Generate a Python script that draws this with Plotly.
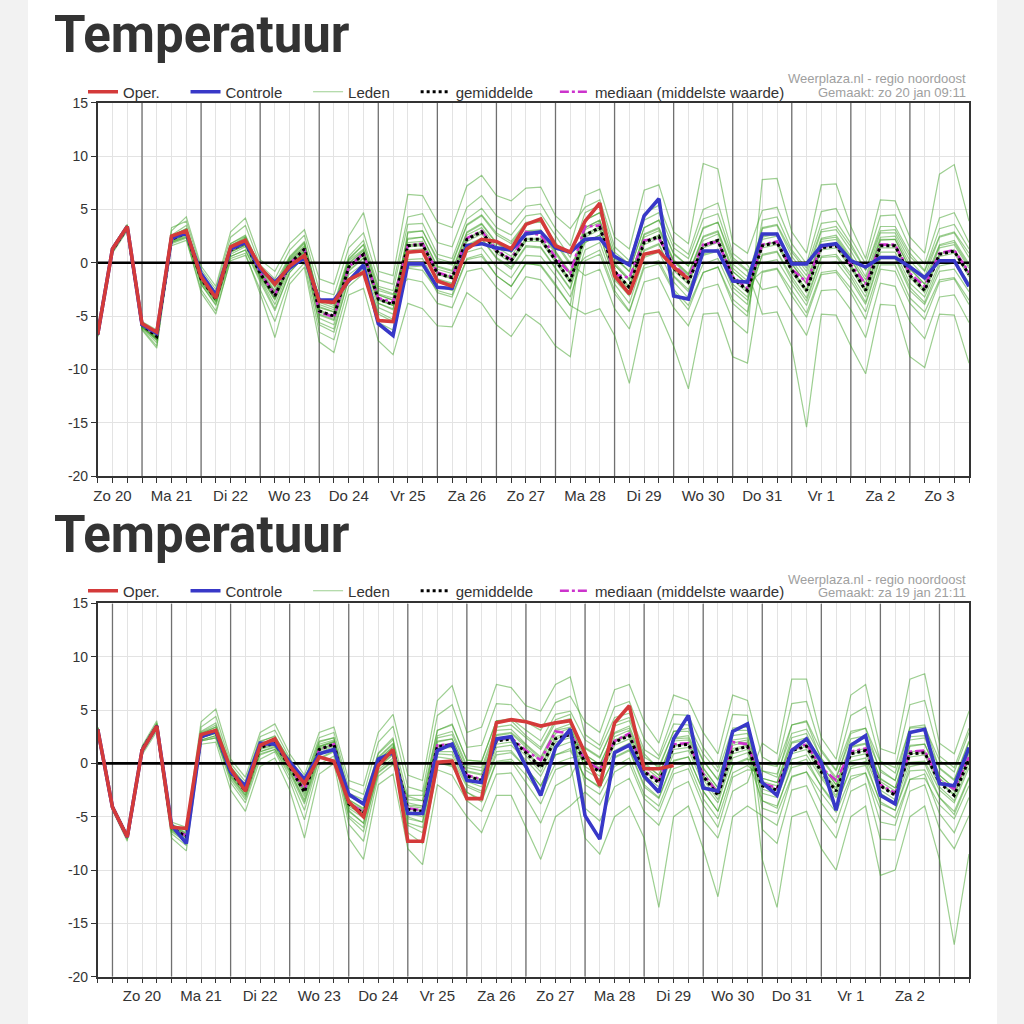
import plotly.graph_objects as go
import pandas as pd

# ---------------- data ----------------
N_STEPS = 60
top_start = "2019-01-20 06:00"
bottom_start = "2019-01-19 18:00"

top_day_labels = ["Zo 20", "Ma 21", "Di 22", "Wo 23", "Do 24", "Vr 25", "Za 26", "Zo 27",
                  "Ma 28", "Di 29", "Wo 30", "Do 31", "Vr 1", "Za 2", "Zo 3"]
bottom_day_labels = ["Zo 20", "Ma 21", "Di 22", "Wo 23", "Do 24", "Vr 25", "Za 26", "Zo 27",
                     "Ma 28", "Di 29", "Wo 30", "Do 31", "Vr 1", "Za 2"]
first_label_noon = "2019-01-20 12:00"

y_ticks = [15, 10, 5, 0, -5, -10, -15, -20]
y_tick_labels = ["15", "10", "5", "0", "-5", "-10", "-15", "-20"]

top_made = "Gemaakt: zo 20 jan 09:11"
bottom_made = "Gemaakt: za 19 jan 21:11"
source_text = "Weerplaza.nl - regio noordoost"

# ---- top chart (run of zo 20 jan 09:11)
top_oper = [-6.7, 1.3, 3.4, -5.7,
            -6.5, 2.5, 3.0, -1.3,
            -3.3, 1.5, 2.1, -0.4,
            -2.0, -0.3, 0.7, -3.6,
            -3.7, -1.6, -0.9, -5.4,
            -5.5, 1.0, 1.1, -1.7,
            -2.2, 1.3, 2.2, 2.0,
            1.3, 3.6, 4.1, 1.6,
            1.0, 3.9, 5.6, -1.2,
            -2.9, 0.8, 1.1, -0.4,
            -1.5] + [None] * 19

top_control = [-6.7, 1.3, 3.4, -5.8,
               -6.6, 2.3, 2.8, -1.0,
               -3.0, 1.3, 1.9, -0.6,
               -1.8, -0.5, 0.5, -3.5,
               -3.5, -1.7, -0.2, -5.7,
               -6.8, -0.1, -0.1, -2.3,
               -2.4, 1.6, 1.8, 1.4,
               1.2, 2.7, 2.9, 1.4,
               1.0, 2.2, 2.3, 0.6,
               -0.2, 4.4, 6.0, -3.1,
               -3.4, 1.1, 1.1, -1.7,
               -1.8, 2.7, 2.7, -0.1,
               -0.1, 1.6, 1.8, 0.2,
               -0.4, 0.5, 0.5, -0.4,
               -1.4, 0.2, 0.2, -2.2]

top_mean = [-6.7, 1.2, 3.3, -5.8,
            -6.9, 2.2, 2.8, -1.5,
            -3.4, 1.2, 1.9, -1.0,
            -3.1, -0.1, 1.3, -4.5,
            -5.0, -0.4, 0.8, -3.4,
            -3.9, 1.6, 1.7, -1.0,
            -1.4, 2.2, 2.9, 1.1,
            0.2, 2.2, 2.2, 0.3,
            -1.7, 2.6, 3.3, -0.8,
            -2.3, 1.9, 2.5, -0.5,
            -1.8, 1.6, 2.1, -1.4,
            -2.6, 1.6, 1.9, -0.7,
            -2.6, 1.4, 1.6, -0.3,
            -2.6, 1.6, 1.6, -1.2,
            -2.6, 0.8, 1.1, -1.1]

top_median = [-6.7, 1.2, 3.3, -5.8,
              -6.8, 2.2, 2.8, -1.4,
              -3.3, 1.2, 1.9, -0.9,
              -3.0, -0.1, 1.3, -4.6,
              -5.1, -0.4, 0.9, -3.3,
              -3.7, 1.6, 1.8, -0.9,
              -1.3, 2.3, 3.0, 1.2,
              0.3, 2.9, 2.6, 0.5,
              -1.0, 3.4, 3.5, -1.1,
              -1.4, 2.1, 2.3, -0.2,
              -1.4, 1.7, 2.0, -1.3,
              -2.4, 1.7, 2.0, -0.6,
              -1.8, 1.5, 1.7, -0.2,
              -2.0, 1.7, 1.7, -1.0,
              -2.2, 0.9, 1.2, -0.9]

# ensemble members: one row per 6-hour step
top_members_by_step = [
    [-6.8, -6.6, -6.7, -6.9, -6.5, -6.7, -6.8, -6.6, -6.7, -6.7, -6.9, -6.5],
    [1.0, 1.4, 1.2, 0.9, 1.5, 1.1, 1.3, 1.2, 1.0, 1.4, 1.2, 1.3],
    [3.2, 3.5, 3.4, 3.0, 3.6, 3.3, 3.4, 3.2, 3.1, 3.5, 3.3, 3.4],
    [-6.0, -5.6, -5.9, -6.2, -5.5, -5.8, -6.1, -5.7, -6.3, -5.6, -5.9, -6.0],
    [-7.2, -6.6, -7.0, -7.8, -6.3, -6.9, -7.5, -6.7, -8.0, -6.5, -7.1, -7.3],
    [2.0, 2.5, 2.3, 1.6, 3.0, 2.2, 2.6, 1.9, 2.4, 3.3, 1.8, 2.1],
    [2.6, 3.2, 2.9, 2.1, 4.3, 2.8, 3.5, 2.4, 3.0, 3.9, 2.3, 2.7],
    [-1.8, -0.9, -1.5, -2.5, -0.3, -1.4, -1.1, -2.0, -1.6, -0.6, -2.8, -1.2],
    [-3.6, -2.8, -3.4, -4.5, -2.2, -3.3, -3.0, -4.0, -3.5, -2.5, -4.8, -3.1],
    [1.0, 1.8, 1.3, 0.2, 2.9, 1.2, 1.6, 0.6, 1.4, 2.4, 0.4, 1.1],
    [1.7, 2.5, 2.0, 0.7, 4.2, 1.9, 2.3, 1.2, 2.1, 3.5, 0.9, 1.6],
    [-1.3, -0.4, -1.0, -2.5, 0.3, -0.9, -0.6, -1.8, -1.1, -0.2, -2.9, -0.8],
    [-3.4, -2.2, -3.0, -5.5, -0.8, -3.2, -2.6, -4.5, -3.3, -1.5, -7.0, -2.8],
    [-0.3, 0.5, 0.0, -1.5, 1.8, -0.2, 0.3, -0.9, 0.1, 1.2, -2.0, -0.4],
    [1.1, 1.9, 1.3, 0.0, 3.1, 1.2, 1.6, 0.6, 1.4, 2.6, -0.4, 1.0],
    [-4.8, -3.5, -4.4, -6.5, -1.5, -4.6, -3.9, -5.8, -4.5, -2.6, -7.4, -4.2],
    [-5.3, -4.0, -5.0, -7.2, -2.0, -5.1, -4.4, -6.5, -5.0, -3.0, -8.4, -4.6],
    [-0.7, 0.4, -0.3, -2.2, 2.5, -0.5, 0.2, -1.5, -0.4, 1.4, -3.0, -0.1],
    [0.5, 1.7, 0.9, -1.0, 4.7, 0.7, 1.3, -0.3, 0.9, 2.8, -2.4, 1.1],
    [-3.8, -2.4, -3.4, -5.6, -0.8, -3.5, -2.9, -4.8, -3.4, -1.6, -7.3, -3.0],
    [-4.3, -2.9, -3.9, -6.3, -1.2, -4.0, -3.3, -5.5, -4.0, -2.0, -8.6, -3.5],
    [1.2, -1.5, 1.6, 2.8, 6.4, 1.5, 2.2, -0.5, 1.7, 4.3, -3.8, 1.9],
    [1.3, -1.8, 1.7, 3.0, 6.3, 1.6, 2.4, -0.7, 1.8, 4.6, -4.3, 2.0],
    [-1.5, -3.8, -0.9, 0.4, 3.8, -1.1, -0.3, -2.6, -1.0, 1.9, -5.9, -0.6],
    [-1.9, -4.2, -1.3, 0.0, 3.3, -1.5, -0.7, -3.0, -1.4, 1.5, -6.0, -1.0],
    [1.7, -0.8, 2.2, 3.6, 7.2, 2.0, 2.9, 0.4, 2.3, 5.2, -2.8, 2.6],
    [2.3, -0.5, 2.9, 4.5, 8.2, 2.7, 3.7, 0.8, 3.0, 6.3, -3.8, 3.3],
    [0.5, -2.3, 1.1, 2.8, 6.3, 0.9, 1.9, -1.2, 1.2, 4.4, -5.8, 1.5],
    [-0.4, -3.4, 0.2, 2.0, 5.8, 0.0, 1.0, -2.2, 0.3, 3.6, -6.9, 0.6],
    [1.6, -1.3, 2.2, 3.8, 7.0, 2.0, 3.0, 0.0, 2.3, 5.3, -4.8, 2.7],
    [1.5, -1.6, 2.2, 3.9, 7.1, 2.0, 3.1, -0.3, 2.3, 5.5, -5.8, 2.8],
    [-0.4, -3.5, 0.3, 1.9, 4.4, 0.1, 1.1, -2.2, 0.4, 3.2, -7.8, 0.8],
    [-2.4, -5.3, -1.7, 0.0, 3.2, -1.9, -0.9, -4.0, -1.6, 1.6, -8.8, -1.1],
    [1.9, 4.0, 2.6, -1.2, 5.2, 2.4, 3.3, -4.8, 2.7, 6.3, 0.2, 3.1],
    [2.6, 4.7, 3.3, -0.6, 5.9, 3.1, 4.0, -4.3, 3.4, 6.9, 0.8, 3.8],
    [-1.6, 0.6, -0.8, -4.3, 1.5, -1.0, 0.0, -6.8, -0.7, 2.4, -2.9, -0.2],
    [-3.1, -0.8, -2.3, -6.2, 0.2, -2.5, -1.5, -11.3, -2.2, 1.3, -4.6, -1.7],
    [1.1, 3.3, 1.9, -1.8, 4.6, 1.7, 2.7, -4.8, 2.0, 6.8, -0.5, 2.4],
    [1.7, 4.0, 2.5, -1.4, 5.4, 2.3, 3.3, -4.6, 2.6, 7.3, -0.1, 3.0],
    [-1.3, 0.9, -0.5, -4.2, 1.9, -0.7, 0.3, -7.8, -0.4, 2.9, -2.7, 0.1],
    [-2.7, -0.3, -1.8, -5.9, 0.8, -2.0, -1.0, -11.8, -1.7, 1.8, -4.4, -1.2],
    [0.7, 3.2, 1.6, -2.4, 5.0, 1.4, 2.5, -4.8, 1.7, 9.3, -0.9, 2.1],
    [1.1, 3.8, 2.1, -2.0, 5.6, 1.9, 3.0, -4.7, 2.2, 8.8, -0.4, 2.7],
    [-2.3, 0.3, -1.4, -5.4, 0.9, -1.6, -0.5, -8.8, -1.3, 1.9, -3.8, -0.8],
    [-3.5, -0.8, -2.6, -6.6, -0.2, -2.8, -1.7, -9.4, -2.5, 0.9, -5.0, -2.0],
    [0.7, -4.8, 1.6, 7.8, -2.5, 1.4, 2.5, -0.9, 1.7, 4.9, 3.3, 2.2],
    [1.0, -4.6, 1.9, 7.9, -2.2, 1.7, 2.8, -0.6, 2.0, 5.2, 3.6, 2.5],
    [-1.6, -7.9, -0.7, 2.9, -4.6, -0.9, 0.2, -3.1, -0.6, 1.8, 1.0, -0.1],
    [-3.6, -15.4, -2.6, 0.9, -6.8, -2.8, -1.6, -5.1, -2.5, -0.1, -0.8, -2.0],
    [0.5, -4.8, 1.4, 7.3, -2.6, 1.2, 2.3, -1.1, 1.5, 4.8, 3.1, 2.0],
    [0.6, -4.9, 1.6, 7.4, -2.5, 1.4, 2.6, -0.9, 1.7, 5.1, 3.4, 2.2],
    [-1.3, -7.8, -0.3, 3.4, -4.4, -0.5, 0.6, -2.8, -0.2, 2.3, 1.5, 0.3],
    [-3.7, -10.4, -2.6, 0.4, -7.0, -2.8, -1.6, -5.3, -2.5, -0.1, -0.7, -2.0],
    [0.6, -3.9, 1.6, 5.9, -1.9, 1.4, 2.4, -0.6, 1.7, 4.4, 3.0, 2.1],
    [0.6, -4.0, 1.6, 5.8, -2.2, 1.4, 2.5, -0.8, 1.7, 4.5, 3.1, 2.2],
    [-2.3, -8.8, -1.2, 2.4, -5.5, -1.4, -0.2, -3.8, -1.1, 1.4, 0.6, -0.6],
    [-3.7, -9.8, -2.6, 0.9, -7.1, -2.8, -1.6, -5.3, -2.5, -0.1, -0.8, -2.0],
    [-0.3, -4.8, 0.8, 8.3, -3.2, 0.6, 1.7, -1.8, 0.9, 4.2, 2.5, 1.4],
    [0.0, -4.9, 1.1, 9.2, -3.0, 0.9, 2.1, -1.5, 1.2, 4.7, 2.9, 1.7],
    [-2.2, -9.4, -1.1, 3.9, -5.6, -1.3, -0.1, -3.9, -1.0, 1.9, 0.9, -0.5],
]

# members that stay close to the ensemble mean (the dense green core)
top_core_members_by_step = [
    [-6.7, -6.7, -6.8, -6.6, -6.8, -6.6],
    [1.2, 1.2, 1.1, 1.3, 1.1, 1.3],
    [3.3, 3.3, 3.2, 3.4, 3.2, 3.4],
    [-5.9, -5.8, -6.0, -5.7, -6.0, -5.6],
    [-7.0, -6.8, -7.1, -6.7, -7.2, -6.6],
    [2.1, 2.3, 2.0, 2.4, 1.9, 2.5],
    [2.7, 2.9, 2.5, 3.1, 2.4, 3.2],
    [-1.6, -1.3, -1.8, -1.2, -2.0, -1.0],
    [-3.6, -3.2, -3.7, -3.1, -3.9, -2.9],
    [1.0, 1.4, 0.8, 1.6, 0.6, 1.8],
    [1.7, 2.1, 1.5, 2.4, 1.2, 2.6],
    [-1.2, -0.8, -1.4, -0.6, -1.6, -0.4],
    [-3.5, -2.7, -3.9, -2.3, -4.3, -1.9],
    [-0.4, 0.2, -0.6, 0.4, -0.9, 0.6],
    [1.1, 1.5, 0.9, 1.8, 0.6, 2.0],
    [-4.9, -4.1, -5.2, -3.7, -5.6, -3.4],
    [-5.4, -4.6, -5.8, -4.2, -6.2, -3.8],
    [-0.8, 0.0, -1.1, 0.3, -1.5, 0.6],
    [0.4, 1.2, -0.1, 1.7, -0.6, 2.1],
    [-3.8, -3.0, -4.2, -2.6, -4.6, -2.2],
    [-4.4, -3.5, -4.8, -3.0, -5.3, -2.6],
    [2.9, 2.3, 0.3, 1.0, -0.4, 3.6],
    [3.0, 2.4, 0.4, 1.1, -0.3, 3.7],
    [0.2, -0.4, -2.2, -1.6, -2.8, 0.8],
    [-0.2, -0.8, -2.6, -2.0, -3.2, 0.4],
    [3.5, 2.8, 1.0, 1.6, 0.3, 4.1],
    [4.4, 3.6, 1.4, 2.2, 0.6, 5.1],
    [2.6, 1.8, -0.4, 0.4, -1.2, 3.3],
    [1.8, 1.0, -1.4, -0.6, -2.2, 2.6],
    [3.7, 2.9, 0.7, 1.5, -0.1, 4.4],
    [3.8, 3.0, 0.6, 1.4, -0.2, 4.6],
    [1.8, 1.0, -1.2, -0.5, -2.0, 2.5],
    [-0.2, -1.0, -3.2, -2.5, -4.0, 0.5],
    [1.9, 0.5, 1.2, 4.0, 3.3, 4.7],
    [2.6, 1.2, 1.9, 4.7, 4.0, 5.4],
    [-1.4, -2.6, -2.0, 0.4, -0.2, 1.0],
    [-3.0, -4.5, -3.8, -0.8, -1.6, -0.1],
    [1.2, -0.2, 0.5, 3.3, 2.6, 4.0],
    [1.8, 0.2, 1.0, 4.0, 3.2, 4.7],
    [-1.2, -2.5, -1.8, 0.8, 0.2, 1.4],
    [-2.5, -4.0, -3.3, -0.3, -1.1, 0.4],
    [0.8, -0.9, -0.1, 3.3, 2.4, 4.1],
    [1.3, -0.4, 0.4, 3.8, 2.9, 4.6],
    [-2.0, -3.4, -2.7, -0.1, -0.8, 0.5],
    [-3.2, -4.6, -3.9, -1.3, -2.0, -0.7],
    [0.8, 2.4, 4.0, 3.2, -0.8, 0.0],
    [1.1, 2.7, 4.3, 3.5, -0.5, 0.3],
    [-1.3, -0.1, 1.2, 0.6, -2.6, -2.0],
    [-3.3, -1.9, -0.5, -1.2, -4.7, -4.0],
    [0.6, 2.2, 3.7, 2.9, -0.9, -0.1],
    [0.8, 2.4, 3.9, 3.1, -0.7, 0.1],
    [-1.0, 0.4, 1.8, 1.1, -2.4, -1.7],
    [-3.2, -2.0, -0.7, -1.3, -4.6, -3.9],
    [1.0, 2.2, 3.4, 2.8, -0.2, 0.4],
    [1.0, 2.2, 3.4, 2.8, -0.2, 0.4],
    [-1.9, -0.5, 0.9, 0.2, -3.3, -2.6],
    [-3.2, -2.0, -0.7, -1.3, -4.6, -3.9],
    [0.0, 1.6, 3.2, 2.4, -1.6, -0.8],
    [0.3, 1.9, 3.6, 2.8, -1.4, -0.6],
    [-1.9, -0.3, 1.3, 0.5, -3.5, -2.7],
]

# ---- bottom chart (run of za 19 jan 21:11)
bottom_oper = [3.2, -4.1, -6.9, 1.2,
               3.5, -6.0, -6.1, 2.7,
               3.1, -0.5, -2.6, 1.7,
               2.3, -0.2, -1.9, 0.6,
               0.2, -3.6, -5.0, -0.2,
               1.3, -7.3, -7.3, 0.1,
               0.2, -3.3, -3.3, 3.8,
               4.1, 3.9, 3.5, 3.8,
               4.0, 1.0, -2.1, 3.8,
               5.4, -0.5, -0.5, -0.2] + [None] * 20

bottom_control = [3.2, -4.1, -6.9, 1.2,
                  3.5, -5.8, -7.5, 2.5,
                  3.0, -0.8, -2.1, 1.9,
                  1.8, 0.1, -1.5, 0.9,
                  1.3, -2.9, -3.8, 0.4,
                  1.0, -4.7, -4.7, 1.2,
                  1.8, -1.6, -1.8, 2.3,
                  2.5, -0.3, -3.0, 1.5,
                  3.2, -4.9, -7.1, 1.0,
                  1.7, -1.2, -2.7, 2.3,
                  4.5, -2.3, -2.6, 3.0,
                  3.7, -1.8, -3.0, 1.2,
                  2.3, 0.1, -4.4, 1.7,
                  2.6, -3.0, -3.8, 2.9,
                  3.2, -1.9, -2.1, 1.5]

bottom_mean = [3.2, -4.1, -6.9, 1.3,
               3.5, -6.0, -6.9, 2.5,
               3.0, -0.8, -2.6, 1.5,
               1.9, -0.3, -2.7, 1.3,
               1.8, -3.8, -4.7, 0.0,
               1.2, -4.3, -4.5, 1.6,
               1.7, -1.2, -1.6, 2.1,
               2.3, 1.0, -0.4, 2.3,
               2.7, 0.1, -0.8, 2.0,
               2.6, -0.8, -1.8, 1.6,
               1.8, -1.2, -3.0, 1.2,
               1.6, -2.1, -2.5, 1.2,
               1.6, -0.8, -2.6, 0.9,
               1.2, -2.1, -3.0, 0.9,
               1.0, -1.8, -3.0, 0.4]

bottom_median = [3.2, -4.1, -6.9, 1.3,
                 3.5, -6.0, -6.8, 2.5,
                 3.0, -0.8, -2.5, 1.6,
                 2.0, -0.2, -2.5, 1.3,
                 1.8, -3.7, -4.6, 0.1,
                 1.2, -4.2, -4.4, 1.7,
                 1.8, -1.1, -1.5, 2.2,
                 2.4, 1.2, 0.3, 3.0,
                 2.8, 0.3, -0.6, 2.1,
                 2.8, -0.7, -1.6, 1.8,
                 1.9, -1.0, -2.8, 2.0,
                 1.8, -1.9, -2.3, 1.3,
                 1.8, -0.4, -1.6, 1.1,
                 1.4, -2.0, -2.8, 1.1,
                 1.2, -1.6, -2.4, 0.6]

bottom_members_by_step = [
    [3.1, 3.3, 3.2, 3.0, 3.4, 3.2, 3.3, 3.1, 3.2, 3.4, 2.9, 3.2],
    [-4.2, -4.0, -4.1, -4.3, -3.9, -4.1, -4.0, -4.2, -4.1, -3.9, -4.4, -4.1],
    [-7.0, -6.8, -6.9, -7.1, -6.6, -6.9, -6.8, -7.0, -6.9, -6.7, -7.3, -6.9],
    [1.2, 1.4, 1.3, 1.0, 1.6, 1.3, 1.4, 1.1, 1.3, 1.5, 0.8, 1.3],
    [3.4, 3.7, 3.5, 3.2, 4.0, 3.5, 3.6, 3.3, 3.5, 3.8, 3.0, 3.6],
    [-6.2, -5.8, -6.0, -6.6, -5.5, -6.0, -5.9, -6.4, -6.0, -5.7, -7.0, -5.9],
    [-7.2, -6.6, -6.9, -7.7, -6.0, -7.0, -6.7, -7.4, -6.9, -6.3, -8.2, -6.8],
    [2.4, 3.0, 2.5, 2.1, 3.9, 2.5, 2.8, 2.2, 2.5, 3.4, 1.8, 2.6],
    [2.8, 3.8, 3.0, 2.4, 5.1, 3.0, 3.4, 2.6, 3.1, 4.4, 2.0, 3.2],
    [-1.1, -0.3, -0.8, -1.8, 0.4, -0.9, -0.6, -1.5, -0.8, 0.0, -2.5, -0.7],
    [-3.0, -2.1, -2.6, -3.7, -1.3, -2.7, -2.3, -3.4, -2.6, -1.7, -4.5, -2.5],
    [1.1, 2.0, 1.5, 0.4, 2.9, 1.4, 1.8, 0.8, 1.5, 2.5, -0.3, 1.6],
    [1.6, 2.6, 1.9, 1.1, 3.7, 1.8, 2.2, 1.3, 2.0, 3.1, 0.5, 2.1],
    [-0.7, 0.2, -0.3, -1.6, 0.9, -0.4, -0.1, -1.2, -0.3, 0.5, -2.5, -0.2],
    [-3.6, -2.1, -2.7, -5.3, -1.1, -2.9, -2.4, -4.4, -2.6, -1.6, -7.0, -2.5],
    [0.8, 2.0, 1.3, -0.1, 2.9, 1.2, 1.6, 0.4, 1.4, 2.4, -1.0, 1.5],
    [1.4, 2.4, 1.8, 0.7, 3.4, 1.7, 2.1, 1.1, 1.8, 2.9, 0.0, 2.0],
    [-4.4, -3.0, -3.8, -5.7, -1.6, -4.0, -3.4, -5.1, -3.7, -2.3, -7.0, -3.6],
    [-5.6, -3.8, -4.7, -7.3, -2.1, -4.9, -4.2, -6.4, -4.6, -2.9, -9.0, -4.4],
    [-0.4, 1.0, 0.0, -1.2, 2.9, -0.1, 0.5, -0.8, 0.1, 2.0, -2.0, 0.3],
    [0.8, 2.4, 1.2, -0.1, 4.6, 1.1, 1.8, 0.3, 1.3, 3.5, -1.0, 1.6],
    [-5.0, -6.5, -4.3, -3.1, -1.1, -4.5, -3.7, -5.8, -4.2, -2.2, -8.0, -4.0],
    [-5.5, -7.5, -4.5, -3.5, -1.6, -4.8, -4.0, -6.5, -4.4, -2.6, -9.5, -4.2],
    [0.9, -0.6, 1.6, 3.1, 5.9, 1.4, 2.4, 0.2, 1.7, 4.5, -2.0, 2.0],
    [0.8, -1.1, 1.7, 3.7, 7.3, 1.5, 2.7, -0.2, 1.9, 5.5, -3.0, 2.3],
    [-2.0, -3.5, -1.2, 0.3, 2.9, -1.4, -0.4, -2.7, -1.1, 1.5, -5.0, -0.8],
    [-2.6, -4.5, -1.6, 0.2, 3.4, -1.8, -0.7, -3.6, -1.5, 1.7, -6.5, -1.1],
    [1.1, -1.0, 2.1, 4.0, 7.4, 1.8, 3.1, 0.1, 2.3, 5.6, -3.0, 2.6],
    [1.2, -0.9, 2.3, 4.0, 7.1, 2.0, 3.2, 0.2, 2.4, 5.5, -3.0, 2.8],
    [-0.4, -3.2, 1.0, 2.6, 5.4, 0.7, 1.8, -1.8, 1.1, 3.9, -6.0, 1.5],
    [-2.1, -5.6, -0.4, 1.5, 4.9, -0.8, 0.6, -3.8, -0.2, 3.1, -9.0, 0.2],
    [0.8, -2.1, 2.3, 4.1, 7.4, 2.0, 3.2, -0.6, 2.5, 5.7, -5.0, 2.8],
    [1.4, -1.3, 2.7, 4.6, 8.1, 2.4, 3.7, 0.0, 2.9, 6.3, -4.0, 3.3],
    [-1.3, 1.4, 0.1, -4.2, 2.7, -0.3, 0.8, -7.0, 0.2, 3.9, -2.7, 0.5],
    [-2.3, 0.5, -0.8, -5.4, 1.7, -1.2, -0.1, -8.5, -0.7, 2.9, -3.9, -0.4],
    [0.6, 3.8, 2.0, -2.2, 5.3, 1.7, 2.9, -5.0, 2.2, 6.9, -0.8, 2.5],
    [1.3, 4.3, 2.6, -1.4, 5.8, 2.3, 3.5, -4.0, 2.8, 7.4, 0.0, 3.1],
    [-2.0, 0.9, -0.8, -4.5, 2.3, -1.1, 0.1, -7.0, -0.7, 3.9, -3.3, -0.3],
    [-3.2, -0.5, -1.8, -5.8, 0.7, -2.2, -1.1, -13.5, -1.7, 1.9, -4.5, -1.4],
    [0.3, 3.0, 1.6, -2.4, 4.6, 1.3, 2.4, -5.0, 1.7, 6.4, -1.0, 2.1],
    [0.6, 3.3, 1.8, -1.7, 4.5, 1.5, 2.6, -4.0, 1.9, 5.9, -0.5, 2.2],
    [-2.6, 0.3, -1.2, -5.3, 1.5, -1.5, -0.4, -8.0, -1.1, 2.9, -3.9, -0.8],
    [-4.5, -1.6, -3.0, -7.0, -0.4, -3.4, -2.3, -12.5, -2.9, 0.9, -6.0, -2.6],
    [-0.1, 3.1, 1.2, -2.6, 4.6, 0.9, 2.2, -5.0, 1.4, 6.4, -1.3, 1.7],
    [0.5, 3.1, 1.6, -1.8, 4.5, 1.3, 2.4, -4.0, 1.7, 5.9, -0.6, 2.0],
    [-3.5, -9.0, -2.1, 1.9, -6.2, -2.4, -1.4, -4.9, -2.0, 0.6, -0.7, -1.7],
    [-4.2, -13.5, -2.5, 0.9, -7.5, -2.9, -1.8, -5.8, -2.4, -0.2, -1.3, -2.1],
    [-0.1, -5.0, 1.2, 7.9, -2.5, 0.9, 2.4, -1.3, 1.4, 5.6, 3.6, 1.9],
    [0.4, -4.5, 1.6, 7.9, -2.1, 1.3, 2.8, -0.8, 1.8, 5.8, 3.9, 2.2],
    [-2.2, -8.0, -0.8, 2.4, -5.1, -1.2, -0.2, -3.7, -0.7, 1.3, 0.4, -0.5],
    [-4.1, -10.0, -2.6, 0.4, -7.0, -3.0, -2.0, -5.6, -2.5, -0.6, -1.5, -2.3],
    [-0.3, -5.0, 0.9, 6.4, -2.6, 0.6, 1.9, -1.5, 1.1, 4.5, 2.8, 1.5],
    [0.2, -4.0, 1.2, 7.4, -1.9, 0.9, 2.4, -0.9, 1.4, 5.3, 3.3, 1.8],
    [-3.8, -10.5, -2.1, 1.4, -7.1, -2.5, -1.5, -5.5, -2.0, 0.2, -0.8, -1.7],
    [-4.4, -10.0, -3.0, 0.9, -7.2, -3.4, -2.3, -5.8, -2.9, -0.4, -1.6, -2.6],
    [-0.3, -5.0, 0.9, 7.9, -2.6, 0.6, 2.2, -1.5, 1.1, 5.5, 3.4, 1.6],
    [0.0, -4.0, 1.0, 8.4, -2.0, 0.8, 2.4, -1.0, 1.2, 5.9, 3.6, 1.8],
    [-3.2, -9.0, -1.8, 1.9, -6.1, -2.2, -1.1, -4.7, -1.7, 0.7, -0.5, -1.4],
    [-4.8, -17.0, -3.0, 0.9, -8.0, -3.5, -2.3, -6.5, -2.9, -0.4, -1.6, -2.6],
    [-1.4, -8.5, 0.4, 4.9, -4.9, 0.0, 1.2, -3.2, 0.5, 3.3, 2.0, 0.9],
]

bottom_core_members_by_step = [
    [3.2, 3.2, 3.1, 3.3, 3.1, 3.3],
    [-4.1, -4.1, -4.2, -4.0, -4.2, -4.0],
    [-6.9, -6.9, -7.0, -6.8, -7.1, -6.8],
    [1.3, 1.3, 1.2, 1.4, 1.1, 1.4],
    [3.5, 3.5, 3.4, 3.6, 3.3, 3.7],
    [-6.1, -5.9, -6.2, -5.8, -6.3, -5.7],
    [-7.0, -6.8, -7.2, -6.6, -7.3, -6.5],
    [2.4, 2.6, 2.2, 2.8, 2.1, 2.9],
    [2.8, 3.2, 2.6, 3.4, 2.4, 3.6],
    [-1.0, -0.6, -1.2, -0.4, -1.3, -0.3],
    [-2.8, -2.4, -3.0, -2.2, -3.2, -2.0],
    [1.3, 1.7, 1.1, 1.9, 0.9, 2.1],
    [1.7, 2.1, 1.5, 2.3, 1.3, 2.5],
    [-0.5, -0.1, -0.7, 0.1, -0.9, 0.3],
    [-3.1, -2.3, -3.4, -2.0, -3.8, -1.6],
    [1.0, 1.6, 0.8, 1.8, 0.5, 2.1],
    [1.6, 2.0, 1.4, 2.2, 1.2, 2.4],
    [-4.2, -3.4, -4.5, -3.1, -4.9, -2.8],
    [-5.1, -4.3, -5.6, -3.8, -6.0, -3.4],
    [-0.3, 0.3, -0.6, 0.6, -0.9, 0.9],
    [0.9, 1.5, 0.5, 1.9, 0.2, 2.2],
    [-3.4, -3.9, -5.2, -4.7, -5.6, -3.0],
    [-3.5, -4.0, -5.5, -5.0, -6.0, -3.0],
    [2.6, 2.1, 0.6, 1.1, 0.1, 3.1],
    [3.0, 2.3, 0.4, 1.1, -0.3, 3.6],
    [-0.2, -0.7, -2.2, -1.7, -2.7, 0.3],
    [-0.4, -1.0, -2.8, -2.2, -3.4, 0.2],
    [3.4, 2.7, 0.8, 1.5, 0.2, 4.0],
    [3.6, 2.9, 1.0, 1.7, 0.4, 4.2],
    [2.4, 1.7, -0.4, 0.3, -1.1, 3.1],
    [1.3, 0.4, -2.1, -1.2, -2.9, 2.1],
    [3.8, 3.1, 0.8, 1.5, 0.0, 4.6],
    [4.2, 3.4, 1.2, 2.0, 0.5, 4.9],
    [-0.6, -2.0, -1.3, 1.5, 0.8, 2.2],
    [-1.5, -2.9, -2.2, 0.6, -0.1, 1.3],
    [1.2, -0.3, 0.5, 3.5, 2.8, 4.3],
    [1.9, 0.5, 1.2, 4.0, 3.3, 4.7],
    [-1.5, -2.9, -2.2, 0.6, -0.1, 1.3],
    [-2.5, -4.0, -3.3, -0.3, -1.1, 0.4],
    [0.9, -0.5, 0.2, 3.0, 2.3, 3.7],
    [1.2, 0.0, 0.6, 3.0, 2.4, 3.6],
    [-1.9, -3.3, -2.6, 0.2, -0.5, 0.9],
    [-3.7, -5.2, -4.5, -1.5, -2.3, -0.8],
    [0.5, -0.9, -0.2, 2.6, 1.9, 3.3],
    [1.0, -0.2, 0.4, 2.8, 2.2, 3.4],
    [-2.8, -1.4, 0.0, -0.7, -4.2, -3.5],
    [-3.2, -1.8, -0.3, -1.0, -4.7, -4.0],
    [0.4, 2.0, 3.6, 2.8, -1.2, -0.4],
    [0.8, 2.4, 4.0, 3.2, -0.8, 0.0],
    [-1.4, -0.2, 1.1, 0.5, -2.8, -2.1],
    [-3.2, -2.0, -0.7, -1.3, -4.6, -3.9],
    [0.2, 1.6, 3.0, 2.3, -1.2, -0.5],
    [0.5, 1.9, 3.3, 2.6, -0.9, -0.2],
    [-2.8, -1.4, 0.1, -0.6, -4.3, -3.6],
    [-3.7, -2.3, -0.9, -1.6, -5.1, -4.4],
    [0.1, 1.7, 3.3, 2.5, -1.5, -0.7],
    [0.2, 1.8, 3.4, 2.6, -1.4, -0.6],
    [-2.5, -1.1, 0.3, -0.4, -3.9, -3.2],
    [-3.7, -2.3, -0.8, -1.5, -5.2, -4.5],
    [-0.4, 1.2, 2.9, 2.1, -2.1, -1.3],
]

# ---------------- styling ----------------
W = H = 1024
RED = "#d43a3a"
BLUE = "#3838c8"
GREEN = "rgba(60,160,35,0.5)"
MAGENTA = "#cc33cc"
TEXT = "#333333"
GRID = "#e3e3e3"
DAYLINE = "#707070"
FONT = "Liberation Sans, Arial, sans-serif"
NB = "\u00a0"

X_DOM = [97.7 / W, 969 / W]
TOP_PX = (102.7, 476.3)
BOT_PX = (603.4, 976.7)
Y_MIN, Y_MAX = min(y_ticks), max(y_ticks)


def ydom(px):
    return [1 - px[1] / H, 1 - px[0] / H]


fig = go.Figure()


def add_chart(start, day_labels, oper, ctrl, mean, median, members_by_step, core_by_step,
              xa, ya, leg):
    times = pd.date_range(start, periods=N_STEPS, freq="6h")
    tstr = [t.strftime("%Y-%m-%d %H:%M") for t in times]
    # day separators (midnights) drawn behind everything
    dx, dy = [], []
    for t in times[1:-1]:
        if t.hour == 0:
            s = t.strftime("%Y-%m-%d %H:%M")
            dx += [s, s, None]
            dy += [Y_MIN, Y_MAX, None]
    fig.add_trace(go.Scatter(x=dx, y=dy, mode="lines", line=dict(color=DAYLINE, width=1.3),
                             showlegend=False, xaxis=xa, yaxis=ya, hoverinfo="skip",
                             cliponaxis=False))
    rows = [a + b for a, b in zip(members_by_step, core_by_step)]
    members = [list(col) for col in zip(*rows)]
    for k, m in enumerate(members):
        fig.add_trace(go.Scatter(x=tstr, y=m, mode="lines", name="Leden" + NB * 5,
                                 line=dict(color=GREEN, width=1.2),
                                 legend=leg, legendrank=3, showlegend=(k == 0),
                                 xaxis=xa, yaxis=ya, hoverinfo="skip"))
    fig.add_trace(go.Scatter(x=[tstr[0], tstr[-1]], y=[0, 0], mode="lines",
                             line=dict(color="black", width=2.6), showlegend=False,
                             xaxis=xa, yaxis=ya, hoverinfo="skip"))
    fig.add_trace(go.Scatter(x=tstr, y=median, mode="lines", name="mediaan (middelste waarde)",
                             line=dict(color=MAGENTA, width=2.6, dash="dashdot"),
                             legend=leg, legendrank=5, xaxis=xa, yaxis=ya))
    fig.add_trace(go.Scatter(x=tstr, y=mean, mode="lines", name="gemiddelde" + NB * 4,
                             line=dict(color="black", width=3, dash="dot"),
                             legend=leg, legendrank=4, xaxis=xa, yaxis=ya))
    fig.add_trace(go.Scatter(x=tstr, y=ctrl, mode="lines", name="Controle" + NB * 5,
                             line=dict(color=BLUE, width=3.6),
                             legend=leg, legendrank=2, xaxis=xa, yaxis=ya))
    fig.add_trace(go.Scatter(x=tstr, y=oper, mode="lines", name="Oper." + NB * 5,
                             line=dict(color=RED, width=3.6), connectgaps=False,
                             legend=leg, legendrank=1, xaxis=xa, yaxis=ya))
    noons = pd.date_range(first_label_noon, periods=len(day_labels), freq="D")
    xaxis = dict(type="date", range=[tstr[0], tstr[-1]],
                 tickvals=[t.strftime("%Y-%m-%d %H:%M") for t in noons], ticktext=day_labels,
                 ticks="outside", ticklen=5, tickcolor=TEXT, tickwidth=1,
                 showgrid=True, gridcolor=GRID, gridwidth=1,
                 minor=dict(dtick=6 * 3600 * 1000, tick0=tstr[0], ticks="outside", ticklen=5,
                            tickcolor=TEXT, showgrid=True, gridcolor=GRID, gridwidth=1),
                 showline=True, linecolor=TEXT, linewidth=1.5, mirror=True,
                 tickfont=dict(family=FONT, size=15, color=TEXT), domain=X_DOM,
                 fixedrange=True, automargin=False)
    yaxis = dict(range=[Y_MIN, Y_MAX], tickvals=y_ticks, ticktext=y_tick_labels,
                 ticks="outside", ticklen=5,
                 tickcolor=TEXT, showgrid=True, gridcolor=GRID, zeroline=False,
                 showline=True, linecolor=TEXT, linewidth=1.5, mirror=True,
                 tickfont=dict(family=FONT, size=14, color=TEXT), fixedrange=True,
                 automargin=False)
    return xaxis, yaxis


xa1, ya1 = add_chart(top_start, top_day_labels, top_oper, top_control, top_mean,
                     top_median, top_members_by_step, top_core_members_by_step,
                     "x", "y", "legend")
xa2, ya2 = add_chart(bottom_start, bottom_day_labels, bottom_oper, bottom_control,
                     bottom_mean, bottom_median, bottom_members_by_step,
                     bottom_core_members_by_step, "x2", "y2", "legend2")
xa1.update(anchor="y")
ya1.update(anchor="x", domain=ydom(TOP_PX))
xa2.update(anchor="y2")
ya2.update(anchor="x2", domain=ydom(BOT_PX))

card = dict(type="rect", xref="paper", yref="paper", x0=28 / W, x1=997 / W, y0=0, y1=1,
            fillcolor="white", line=dict(width=0), layer="below")

legend_common = dict(orientation="h", xanchor="left", yanchor="middle", x=83 / W,
                     font=dict(family=FONT, size=15, color=TEXT),
                     bgcolor="rgba(0,0,0,0)", traceorder="normal")

annotations = []
for title_y, plot_top, made in [(34, TOP_PX[0], top_made), (534, BOT_PX[0], bottom_made)]:
    annotations.append(dict(text="Temperatuur", xref="paper", yref="paper", x=52 / W,
                            y=1 - title_y / H, xanchor="left", yanchor="middle", showarrow=False,
                            font=dict(family="Roboto, sans-serif", size=51, color=TEXT,
                                      weight="bold")))
    annotations.append(dict(text=source_text, xref="paper", yref="paper", x=968 / W,
                            y=1 - (plot_top - 24) / H, xanchor="right", yanchor="middle",
                            showarrow=False, font=dict(family=FONT, size=13, color="#a0a0a0")))
    annotations.append(dict(text=made, xref="paper", yref="paper", x=968 / W,
                            y=1 - (plot_top - 10.5) / H, xanchor="right", yanchor="middle",
                            showarrow=False, font=dict(family=FONT, size=13, color="#a0a0a0")))

fig.update_layout(
    width=W, height=H, margin=dict(l=0, r=0, t=0, b=0, pad=0, autoexpand=False),
    paper_bgcolor="#f2f2f2", plot_bgcolor="white",
    xaxis=xa1, yaxis=ya1, xaxis2=xa2, yaxis2=ya2,
    shapes=[card],
    annotations=annotations,
    legend=dict(legend_common, y=1 - 92 / H),
    legend2=dict(legend_common, y=1 - 591 / H),
    showlegend=True, hovermode=False,
)

fig.write_html("out.html",
               config={"displayModeBar": False},
               post_script="document.body.style.margin='0';"
                           "document.body.style.background='#f2f2f2';")
